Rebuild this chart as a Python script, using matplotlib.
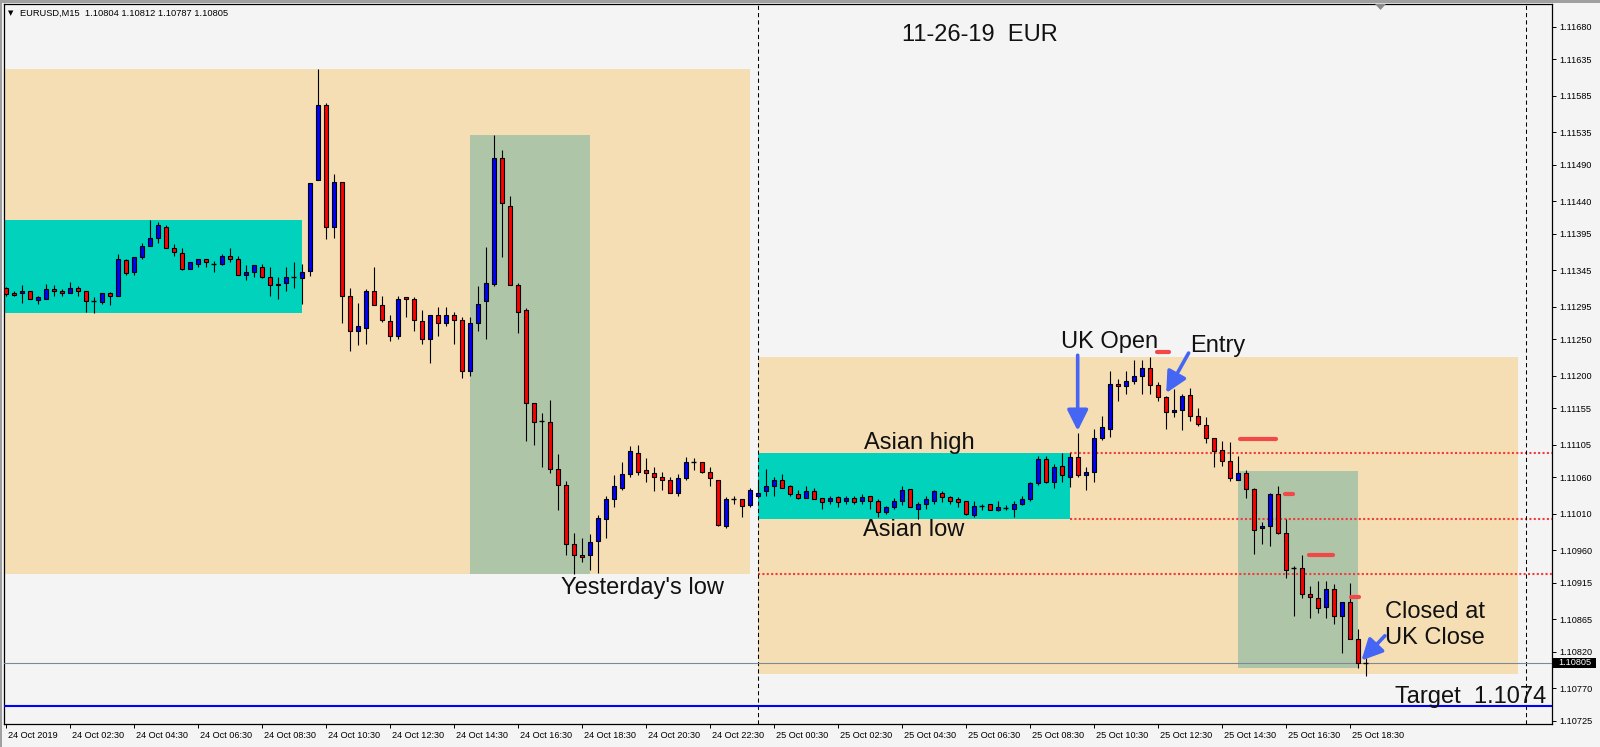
import numpy as np
import pandas as pd
import matplotlib
matplotlib.use("Agg")
import matplotlib.pyplot as plt
import matplotlib.transforms as mtransforms
from matplotlib.patches import Rectangle, Polygon

W, H = 1600, 747

header_text = "EURUSD,M15  1.10804 1.10812 1.10787 1.10805"
chart_title = "11-26-19  EUR"
origin_time = "2019-10-24 00:00"
first_bar_time = "2019-10-24 00:30"

opens = [
    1.11321, 1.11314, 1.11313, 1.11316, 1.11304, 1.11306, 1.11319, 1.11316, 1.11313, 1.11321,
    1.11316, 1.11302, 1.11301, 1.11313, 1.11310, 1.11359, 1.11342, 1.11363, 1.11378, 1.11390,
    1.11405, 1.11375, 1.11368, 1.11346, 1.11354, 1.11360, 1.11353, 1.11354, 1.11364, 1.11360,
    1.11338, 1.11342, 1.11350, 1.11335, 1.11326, 1.11327, 1.11335, 1.11334, 1.11344, 1.11469,
    1.11573, 1.11404, 1.11466, 1.11309, 1.11262, 1.11266, 1.11317, 1.11297, 1.11275, 1.11255,
    1.11308, 1.11305, 1.11275, 1.11250, 1.11283, 1.11273, 1.11284, 1.11277, 1.11207, 1.11272,
    1.11302, 1.11326, 1.11500, 1.11434, 1.11324, 1.11290, 1.11162, 1.11137, 1.11136, 1.11072,
    1.11049, 1.10968, 1.10953, 1.10953, 1.10972, 1.11002, 1.11030, 1.11046, 1.11064, 1.11094,
    1.11070, 1.11066, 1.11060, 1.11056, 1.11039, 1.11059, 1.11081, 1.11081, 1.11068, 1.11057,
    1.10993, 1.11030, 1.11030, 1.11022, 1.11035, 1.11041, 1.11048, 1.11057, 1.11048, 1.11037,
    1.11031, 1.11041, 1.11031, 1.11027, 1.11033, 1.11027, 1.11031, 1.11027, 1.11034, 1.11027,
    1.11012, 1.11019, 1.11027, 1.11044, 1.11017, 1.11024, 1.11028, 1.11039, 1.11033, 1.11030,
    1.11027, 1.11008, 1.11021, 1.11023, 1.11015, 1.11018, 1.11016, 1.11023, 1.11030, 1.11052,
    1.11085, 1.11053, 1.11075, 1.11061, 1.11088, 1.11063, 1.11068, 1.11114, 1.11127, 1.11189,
    1.11185, 1.11193, 1.11200, 1.11210, 1.11187, 1.11170, 1.11150, 1.11152, 1.11173, 1.11145,
    1.11132, 1.11114, 1.11097, 1.11082, 1.11057, 1.11066, 1.11044, 1.10990, 1.10993, 1.11037,
    1.10983, 1.10935, 1.10935, 1.10899, 1.10894, 1.10881, 1.10906, 1.10869, 1.10889, 1.10837,
    1.10804,
]
highs = [
    1.11322, 1.11316, 1.11325, 1.11316, 1.11309, 1.11326, 1.11324, 1.11319, 1.11329, 1.11323,
    1.11316, 1.11308, 1.11313, 1.11315, 1.11367, 1.11361, 1.11363, 1.11382, 1.11414, 1.11412,
    1.11407, 1.11381, 1.11375, 1.11356, 1.11360, 1.11361, 1.11357, 1.11367, 1.11375, 1.11364,
    1.11352, 1.11352, 1.11353, 1.11350, 1.11335, 1.11349, 1.11356, 1.11353, 1.11465, 1.11622,
    1.11575, 1.11477, 1.11466, 1.11320, 1.11300, 1.11319, 1.11349, 1.11310, 1.11284, 1.11309,
    1.11308, 1.11308, 1.11290, 1.11284, 1.11295, 1.11294, 1.11287, 1.11280, 1.11280, 1.11323,
    1.11377, 1.11531, 1.11511, 1.11447, 1.11327, 1.11293, 1.11162, 1.11148, 1.11167, 1.11092,
    1.11055, 1.10983, 1.10977, 1.10982, 1.11008, 1.11034, 1.11063, 1.11081, 1.11103, 1.11105,
    1.11086, 1.11074, 1.11067, 1.11061, 1.11064, 1.11088, 1.11086, 1.11081, 1.11074, 1.11057,
    1.11033, 1.11035, 1.11030, 1.11045, 1.11057, 1.11072, 1.11060, 1.11064, 1.11050, 1.11042,
    1.11048, 1.11046, 1.11031, 1.11034, 1.11034, 1.11034, 1.11034, 1.11037, 1.11035, 1.11030,
    1.11020, 1.11031, 1.11048, 1.11044, 1.11026, 1.11035, 1.11042, 1.11041, 1.11034, 1.11033,
    1.11028, 1.11027, 1.11023, 1.11023, 1.11028, 1.11022, 1.11027, 1.11034, 1.11053, 1.11090,
    1.11090, 1.11079, 1.11094, 1.11094, 1.11121, 1.11074, 1.11126, 1.11145, 1.11206, 1.11195,
    1.11206, 1.11222, 1.11221, 1.11225, 1.11191, 1.11172, 1.11181, 1.11174, 1.11183, 1.11156,
    1.11143, 1.11114, 1.11110, 1.11108, 1.11090, 1.11070, 1.11046, 1.10998, 1.11039, 1.11048,
    1.11002, 1.10938, 1.10953, 1.10911, 1.10917, 1.10917, 1.10913, 1.10889, 1.10914, 1.10852,
    1.10812,
]
lows = [
    1.11310, 1.11309, 1.11300, 1.11305, 1.11298, 1.11306, 1.11310, 1.11309, 1.11313, 1.11310,
    1.11288, 1.11286, 1.11298, 1.11297, 1.11310, 1.11339, 1.11339, 1.11360, 1.11378, 1.11383,
    1.11375, 1.11364, 1.11345, 1.11346, 1.11350, 1.11350, 1.11342, 1.11352, 1.11356, 1.11338,
    1.11331, 1.11335, 1.11334, 1.11309, 1.11306, 1.11316, 1.11320, 1.11298, 1.11337, 1.11469,
    1.11388, 1.11390, 1.11272, 1.11234, 1.11242, 1.11244, 1.11297, 1.11274, 1.11248, 1.11251,
    1.11281, 1.11262, 1.11244, 1.11218, 1.11255, 1.11268, 1.11243, 1.11196, 1.11200, 1.11261,
    1.11251, 1.11323, 1.11363, 1.11324, 1.11258, 1.11110, 1.11104, 1.11074, 1.11066, 1.11015,
    1.10953, 1.10927, 1.10943, 1.10932, 1.10929, 1.10977, 1.11019, 1.11043, 1.11060, 1.11063,
    1.11053, 1.11041, 1.11042, 1.11038, 1.11035, 1.11057, 1.11070, 1.11066, 1.11048, 1.10993,
    1.10990, 1.11023, 1.11005, 1.11019, 1.11035, 1.11034, 1.11034, 1.11045, 1.11035, 1.11030,
    1.11031, 1.11030, 1.11017, 1.11023, 1.11019, 1.11023, 1.11023, 1.11024, 1.11017, 1.11006,
    1.11010, 1.11017, 1.11022, 1.11019, 1.11002, 1.11017, 1.11023, 1.11026, 1.11023, 1.11019,
    1.11008, 1.11006, 1.11015, 1.11015, 1.11013, 1.11015, 1.11006, 1.11022, 1.11027, 1.11050,
    1.11052, 1.11046, 1.11053, 1.11047, 1.11061, 1.11043, 1.11054, 1.11112, 1.11116, 1.11165,
    1.11174, 1.11189, 1.11174, 1.11174, 1.11165, 1.11127, 1.11143, 1.11125, 1.11137, 1.11130,
    1.11107, 1.11074, 1.11075, 1.11055, 1.11056, 1.11032, 1.10954, 1.10968, 1.10966, 1.10982,
    1.10922, 1.10869, 1.10894, 1.10866, 1.10874, 1.10866, 1.10858, 1.10818, 1.10837, 1.10797,
    1.10787,
]
closes = [
    1.11312, 1.11311, 1.11316, 1.11305, 1.11308, 1.11319, 1.11316, 1.11313, 1.11321, 1.11316,
    1.11302, 1.11302, 1.11313, 1.11310, 1.11360, 1.11341, 1.11363, 1.11379, 1.11390, 1.11407,
    1.11375, 1.11370, 1.11346, 1.11356, 1.11360, 1.11356, 1.11353, 1.11364, 1.11360, 1.11338,
    1.11342, 1.11352, 1.11335, 1.11324, 1.11324, 1.11335, 1.11335, 1.11342, 1.11465, 1.11572,
    1.11404, 1.11466, 1.11309, 1.11262, 1.11268, 1.11316, 1.11297, 1.11276, 1.11254, 1.11306,
    1.11305, 1.11276, 1.11250, 1.11283, 1.11273, 1.11284, 1.11276, 1.11207, 1.11272, 1.11299,
    1.11327, 1.11499, 1.11437, 1.11324, 1.11288, 1.11162, 1.11136, 1.11137, 1.11071, 1.11050,
    1.10968, 1.10953, 1.10950, 1.10971, 1.11004, 1.11030, 1.11048, 1.11064, 1.11096, 1.11068,
    1.11066, 1.11060, 1.11056, 1.11039, 1.11059, 1.11081, 1.11081, 1.11068, 1.11059, 1.10994,
    1.11030, 1.11030, 1.11020, 1.11042, 1.11038, 1.11048, 1.11057, 1.11046, 1.11037, 1.11031,
    1.11041, 1.11030, 1.11026, 1.11031, 1.11026, 1.11031, 1.11026, 1.11033, 1.11027, 1.11012,
    1.11019, 1.11027, 1.11042, 1.11019, 1.11024, 1.11030, 1.11041, 1.11033, 1.11028, 1.11026,
    1.11009, 1.11020, 1.11021, 1.11015, 1.11019, 1.11018, 1.11024, 1.11030, 1.11052, 1.11085,
    1.11053, 1.11074, 1.11063, 1.11088, 1.11063, 1.11068, 1.11114, 1.11129, 1.11189, 1.11185,
    1.11192, 1.11200, 1.11210, 1.11187, 1.11170, 1.11150, 1.11152, 1.11172, 1.11145, 1.11134,
    1.11114, 1.11096, 1.11082, 1.11059, 1.11066, 1.11044, 1.10988, 1.10993, 1.11037, 1.10983,
    1.10932, 1.10935, 1.10899, 1.10895, 1.10880, 1.10906, 1.10869, 1.10889, 1.10838, 1.10805,
    1.10805,
]

time_tick_times = [
    "2019-10-24 00:30", "2019-10-24 02:30", "2019-10-24 04:30", "2019-10-24 06:30",
    "2019-10-24 08:30", "2019-10-24 10:30", "2019-10-24 12:30", "2019-10-24 14:30",
    "2019-10-24 16:30", "2019-10-24 18:30", "2019-10-24 20:30", "2019-10-24 22:30",
    "2019-10-25 00:30", "2019-10-25 02:30", "2019-10-25 04:30", "2019-10-25 06:30",
    "2019-10-25 08:30", "2019-10-25 10:30", "2019-10-25 12:30", "2019-10-25 14:30",
    "2019-10-25 16:30", "2019-10-25 18:30",
]
time_tick_labels = [
    "24 Oct 2019", "24 Oct 02:30", "24 Oct 04:30", "24 Oct 06:30", "24 Oct 08:30",
    "24 Oct 10:30", "24 Oct 12:30", "24 Oct 14:30", "24 Oct 16:30", "24 Oct 18:30",
    "24 Oct 20:30", "24 Oct 22:30", "25 Oct 00:30", "25 Oct 02:30", "25 Oct 04:30",
    "25 Oct 06:30", "25 Oct 08:30", "25 Oct 10:30", "25 Oct 12:30", "25 Oct 14:30",
    "25 Oct 16:30", "25 Oct 18:30",
]
price_ticks = [1.11680, 1.11635, 1.11585, 1.11535, 1.11490, 1.11440, 1.11395,
               1.11345, 1.11295, 1.11250, 1.11200, 1.11155, 1.11105, 1.11060,
               1.11010, 1.10960, 1.10915, 1.10865, 1.10820, 1.10770, 1.10725]

day_ranges = [("2019-10-24 00:00", "2019-10-24 23:45", 1.10927, 1.11622),
              ("2019-10-25 00:00", "2019-10-25 23:45", 1.10789, 1.11225)]
asian_ranges = [("2019-10-24 00:00", "2019-10-24 09:45", 1.11286, 1.11414),
                ("2019-10-25 00:00", "2019-10-25 09:45", 1.11003, 1.11094)]
window_ranges = [("2019-10-24 15:00", "2019-10-24 18:45", 1.10927, 1.11531),
                 ("2019-10-25 15:00", "2019-10-25 18:45", 1.10798, 1.11069)]
level_lines = [("2019-10-25 09:45", 1.11094), ("2019-10-25 09:45", 1.11003),
               ("2019-10-25 00:00", 1.10927)]
day_separators = ["2019-10-25 00:00", "2019-10-26 00:00"]
target_price = 1.10746
red_marks = [("2019-10-25 12:29", "2019-10-25 12:52", 1.11233),
             ("2019-10-25 15:04", "2019-10-25 16:11", 1.11113),
             ("2019-10-25 16:28", "2019-10-25 16:44", 1.11037),
             ("2019-10-25 17:13", "2019-10-25 17:59", 1.10953),
             ("2019-10-25 18:32", "2019-10-25 18:47", 1.10895)]
arrows = [("2019-10-25 10:00", 1.11228, "2019-10-25 10:00", 1.11124),
          ("2019-10-25 13:28", 1.11231, "2019-10-25 12:46", 1.11176),
          ("2019-10-25 19:36", 1.10842, "2019-10-25 18:52", 1.10808)]
labels = [(chart_title, "2019-10-25 04:30", 1.11661),
          ("Yesterday's low", "2019-10-24 17:52", 1.10900),
          ("Asian high", "2019-10-25 03:19", 1.11099),
          ("Asian low", "2019-10-25 03:18", 1.10979),
          ("UK Open", "2019-10-25 09:28", 1.11238),
          ("Entry", "2019-10-25 13:30", 1.11233),
          ("Closed at", "2019-10-25 19:37", 1.10867),
          ("UK Close", "2019-10-25 19:37", 1.10831),
          ("Target  1.1074", "2019-10-25 19:55", 1.10750)]

t0 = pd.Timestamp(origin_time)
def slot(t):
    return (pd.Timestamp(t) - t0) / pd.Timedelta("15min")

# ---------------------------------------------------------------
fig = plt.figure(figsize=(W / 100, H / 100), dpi=100, facecolor="#F4F4F4")
ax = fig.add_axes([4 / W, (H - 724) / H, 1548 / W, 720 / H])
ax.set_facecolor("#F4F4F4")
ax.set_xlim(1.79, 195.29)
ax.set_ylim(1.107206, 1.117113)

WHEAT, TEAL, SAGE = "#F5DEB3", "#00D2BC", "#AFC5A8"
for s, e, lo, hi in day_ranges:
    ax.add_patch(Rectangle((slot(s), lo), slot(e) - slot(s), hi - lo, facecolor=WHEAT, edgecolor="none", zorder=1))
for s, e, lo, hi in asian_ranges:
    ax.add_patch(Rectangle((slot(s), lo), slot(e) - slot(s), hi - lo, facecolor=TEAL, edgecolor="none", zorder=2))
for s, e, lo, hi in window_ranges:
    ax.add_patch(Rectangle((slot(s), lo), slot(e) - slot(s), hi - lo, facecolor=SAGE, edgecolor="none", zorder=2))

xmax = ax.get_xlim()[1]
for s, p in level_lines:
    ax.hlines(p, slot(s), xmax, colors="#F03C3C", linewidth=1.5, linestyles=(0, (1, 1.1)), zorder=3)

for d in day_separators:
    ax.axvline(slot(d), color="black", linewidth=0.75, linestyle=(0, (4, 3)), zorder=3)

ax.axhline(target_price, color="#0000FF", linewidth=1.5, zorder=3)
ax.axhline(closes[-1], color="#7A8A9A", linewidth=0.8, zorder=3)

# candles
o = np.array(opens); h = np.array(highs); l = np.array(lows); c = np.array(closes)
times = pd.date_range(first_bar_time, periods=len(opens), freq="15min")
x = np.array([slot(t) for t in times])
ax.vlines(x, l, h, colors="black", linewidth=0.8, zorder=4)
doji = np.abs(c - o) < 1.5e-5
up = (c > o) & ~doji
dn = (c < o) & ~doji
bw = 0.5
ax.bar(x[up], (c - o)[up], bottom=o[up], width=bw, color="#0000FF", edgecolor="black", linewidth=0.8, zorder=5)
ax.bar(x[dn], (o - c)[dn], bottom=c[dn], width=bw, color="#FF0000", edgecolor="black", linewidth=0.8, zorder=5)
ax.hlines(c[doji], x[doji] - 0.35, x[doji] + 0.35, colors="black", linewidth=1.0, zorder=5)

for s, e, p in red_marks:
    ax.plot([slot(s), slot(e)], [p, p], color="#F24848", linewidth=3.0, solid_capstyle="round", zorder=6)

for ts, ps, th, ph in arrows:
    ax.annotate("", xy=(slot(th), ph), xytext=(slot(ts), ps),
                arrowprops=dict(arrowstyle="-|>,head_length=0.9,head_width=0.45", color="#4565F5",
                                lw=2.6, shrinkA=0, shrinkB=0, mutation_scale=14), zorder=7)

for txt, t, p in labels:
    ax.text(slot(t), p, txt, fontsize=17, family="Liberation Sans", color="#111111",
            ha="left", va="baseline", zorder=8, clip_on=True)

# axes styling
for sp in ax.spines.values():
    sp.set_color("black")
    sp.set_linewidth(0.9)
ax.yaxis.tick_right()
ax.set_yticks(price_ticks)
ax.set_yticklabels([f"{v:.5f}" for v in price_ticks], fontsize=6.6, family="Liberation Sans")
ax.tick_params(axis="y", direction="out", length=3, width=0.7, pad=2, colors="black")
ax.set_xticks([slot(t) for t in time_tick_times])
ax.set_xticklabels(time_tick_labels, fontsize=6.6, family="Liberation Sans")
ax.tick_params(axis="x", direction="out", length=3, width=0.7, pad=2, colors="black")
offset = mtransforms.ScaledTranslation(2 / 100, 0, fig.dpi_scale_trans)
for lab in ax.get_xticklabels():
    lab.set_horizontalalignment("left")
    lab.set_transform(lab.get_transform() + offset)

# current price box on the price scale
fig.add_artist(Rectangle((1553 / W, 1 - 667.5 / H), 43 / W, 10 / H, transform=fig.transFigure,
                         facecolor="black", edgecolor="none"))
fig.text(1558 / W, 1 - 662.5 / H, f"{closes[-1]:.5f}", color="white", fontsize=6.6,
         family="Liberation Sans", va="center", ha="left")

# window decorations
fig.add_artist(Rectangle((0, 1 - 2.5 / H), 1, 2.5 / H, transform=fig.transFigure, facecolor="#A0A0A0", edgecolor="none"))
fig.add_artist(Rectangle((0, 0), 2 / W, 1, transform=fig.transFigure, facecolor="#A0A0A0", edgecolor="none"))
fig.add_artist(Polygon([(1375 / W, 1 - 4 / H), (1386 / W, 1 - 4 / H), (1380.5 / W, 1 - 10 / H)],
                       closed=True, transform=fig.transFigure, facecolor="#8C8C8C", edgecolor="none"))
fig.text(8 / W, 1 - 13 / H, "\u25BC", fontsize=5, family="DejaVu Sans", va="center", ha="left", color="black")
fig.text(20 / W, 1 - 13 / H, header_text, fontsize=6.7, family="Liberation Sans", va="center", ha="left", color="black")

fig.savefig("out.png", dpi=100, facecolor=fig.get_facecolor())
